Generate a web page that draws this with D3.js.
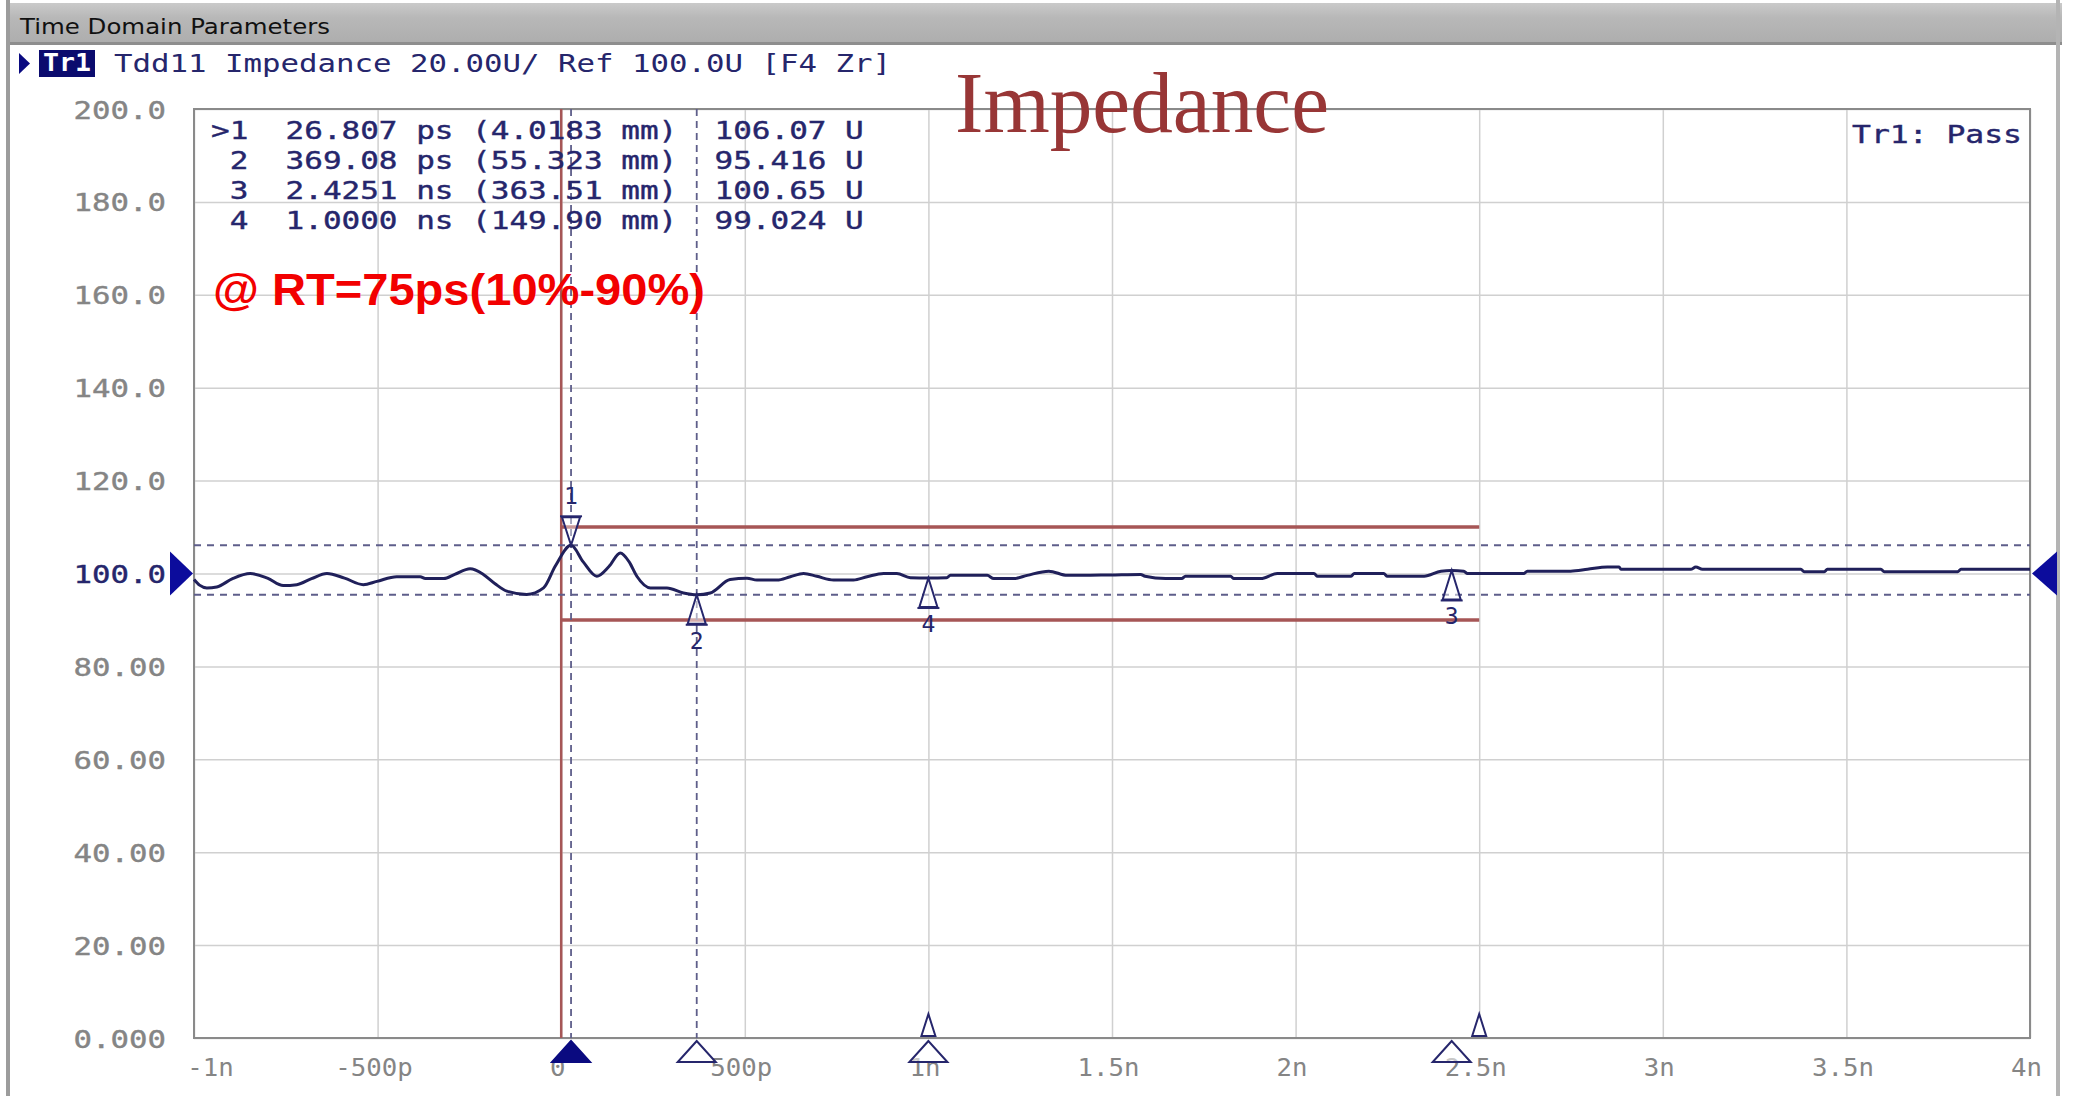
<!DOCTYPE html>
<html>
<head>
<meta charset="utf-8">
<script src="https://cdn.jsdelivr.net/npm/d3@7"></script>
<style>
  html, body { margin: 0; padding: 0; background: #ffffff; overflow: hidden; }
  text.pre { white-space: pre; }
</style>
</head>
<body>
<svg id="chart" width="2074" height="1096"></svg>
<script>
// Tdd11 differential impedance trace (time in ns, impedance in ohms)
const traceTime = [
  -1.000, -0.985, -0.965, -0.938, -0.895, -0.847, -0.800, -0.757, -0.720, -0.680,
  -0.638, -0.590, -0.539, -0.502, -0.448, -0.384, -0.370, -0.320, -0.290, -0.248,
  -0.212, -0.180, -0.148, -0.094, -0.048, -0.016, 0.026807, 0.060, 0.097, 0.130,
  0.161, 0.185, 0.206, 0.243, 0.288, 0.333, 0.36908, 0.406, 0.460, 0.506,
  0.533, 0.588, 0.624, 0.660, 0.696, 0.742, 0.796, 0.833, 0.878, 0.914,
  0.951, 1.000, 1.050, 1.060, 1.160, 1.178, 1.232, 1.269, 1.328, 1.378,
  1.496, 1.578, 1.590, 1.646, 1.690, 1.700, 1.823, 1.832, 1.905, 1.950,
  2.050, 2.060, 2.150, 2.160, 2.240, 2.250, 2.350, 2.396, 2.4251, 2.458,
  2.468, 2.622, 2.631, 2.749, 2.795, 2.849, 2.881, 2.886, 3.076, 3.090,
  3.108, 3.376, 3.385, 3.440, 3.448, 3.594, 3.603, 3.803, 3.812, 4.000
];
const traceImpedance = [
  98.7, 97.5, 96.9, 97.1, 98.9, 100.0, 99.0, 97.4, 97.6, 98.9,
  100.0, 99.0, 97.6, 98.3, 99.3, 99.3, 98.9, 98.9, 99.8, 101.0,
  99.8, 97.8, 96.2, 95.5, 96.9, 101.6, 106.07, 102.5, 99.4, 101.5,
  104.4, 102.5, 99.4, 96.9, 96.9, 95.8, 95.416, 95.8, 98.7, 99.0,
  98.6, 98.6, 99.3, 100.0, 99.4, 98.6, 98.6, 99.3, 100.0, 100.0,
  99.1, 99.024, 99.1, 99.6, 99.6, 98.9, 98.9, 99.6, 100.5, 99.6,
  99.7, 99.8, 99.4, 98.9, 98.9, 99.4, 99.4, 98.9, 98.9, 100.0,
  100.0, 99.4, 99.4, 100.0, 100.0, 99.4, 99.4, 100.5, 100.65, 100.5,
  100.0, 100.0, 100.5, 100.5, 100.9, 101.4, 101.4, 100.9, 100.9, 101.4,
  100.9, 100.9, 100.4, 100.4, 100.9, 100.9, 100.4, 100.4, 100.9, 100.9
];

// Markers (table order)
const markerIds = [1, 2, 3, 4];
const markerTimes = [0.026807, 0.36908, 2.4251, 1.0000];      // ns
const markerDistances = [4.0183, 55.323, 363.51, 149.90];     // mm
const markerValues = [106.07, 95.416, 100.65, 99.024];        // ohm
const activeMarker = 1;
const crossLineMarkers = [1, 2];   // markers showing dashed cross lines

// Limit lines
const limitTimes = [0, 2.5];
const limitLevels = [110, 90];
// Small flags sitting on the time axis
const axisFlags = [1.0, 2.5];

// Axes
const xTickValues = [-1, -0.5, 0, 0.5, 1, 1.5, 2, 2.5, 3, 3.5, 4];
const xTickLabels = ["-1n", "-500p", "0", "500p", "1n", "1.5n", "2n", "2.5n", "3n", "3.5n", "4n"];
const yTickValues = [0, 20, 40, 60, 80, 100, 120, 140, 160, 180, 200];
const yTickLabels = ["0.000", "20.00", "40.00", "60.00", "80.00", "100.0", "120.0", "140.0", "160.0", "180.0", "200.0"];
const refLevel = 100;

const headerText = "Tdd11 Impedance 20.00U/ Ref 100.0U [F4 Zr]";

// ---- layout & style ----
const W = 2074, H = 1096;
const plot = { left: 194, right: 2030, top: 109, bottom: 1038 };
const NAVY = "#26266c", GRAY = "#858585", ARROW = "#0c0c9c";
const MONO = "'DejaVu Sans Mono', 'Liberation Mono', monospace";

const svg = d3.select("#chart");
const x = d3.scaleLinear().domain([-1, 4]).range([plot.left, plot.right]);
const y = d3.scaleLinear().domain([0, 200]).range([plot.bottom, plot.top]);

svg.append("rect").attr("width", W).attr("height", H).attr("fill", "#ffffff");

// window frame and title bar
const defs = svg.append("defs");
const grad = defs.append("linearGradient").attr("id", "titleGrad")
  .attr("x1", 0).attr("y1", 0).attr("x2", 0).attr("y2", 1);
grad.append("stop").attr("offset", "0%").attr("stop-color", "#cacaca");
grad.append("stop").attr("offset", "35%").attr("stop-color", "#b8b8b8");
grad.append("stop").attr("offset", "100%").attr("stop-color", "#adadad");
svg.append("rect").attr("x", 8).attr("y", 3).attr("width", 2054).attr("height", 41).attr("fill", "url(#titleGrad)");
svg.append("rect").attr("x", 8).attr("y", 42).attr("width", 2054).attr("height", 3).attr("fill", "#8e8e8e");
svg.append("rect").attr("x", 6).attr("y", 0).attr("width", 4).attr("height", H).attr("fill", "#9c9c9c");
svg.append("rect").attr("x", 2056).attr("y", 0).attr("width", 4).attr("height", H).attr("fill", "#b4b4b4");

svg.append("text").attr("x", 20).attr("y", 34)
  .attr("font-family", "'DejaVu Sans', Tahoma, sans-serif").attr("font-size", 22)
  .attr("textLength", 310).attr("lengthAdjust", "spacingAndGlyphs")
  .attr("fill", "#111").text("Time Domain Parameters");

// trace header
svg.append("path").attr("d", "M19,53 L30,63.5 L19,74 Z").attr("fill", "#0a0a80");
svg.append("rect").attr("x", 39).attr("y", 50).attr("width", 56).attr("height", 27).attr("fill", "#0b0b6e");
svg.append("text").attr("x", 43).attr("y", 71).attr("font-family", MONO).attr("font-size", 24)
  .attr("font-weight", "bold").attr("textLength", 48).attr("lengthAdjust", "spacingAndGlyphs")
  .attr("fill", "#ffffff").text("Tr1");
svg.append("text").attr("class", "pre mono").attr("xml:space", "preserve")
  .attr("x", 114).attr("y", 72).attr("font-family", MONO).attr("font-size", 25)
  .attr("textLength", headerText.length * 18.5).attr("lengthAdjust", "spacingAndGlyphs")
  .attr("fill", NAVY).text(headerText);

// gridlines and labels via axes
const gx = svg.append("g").attr("transform", `translate(0,${plot.bottom})`)
  .call(d3.axisBottom(x).tickValues(xTickValues).tickSize(-(plot.bottom - plot.top))
    .tickFormat((d, i) => xTickLabels[i]));
gx.select(".domain").remove();
gx.selectAll(".tick line").attr("stroke", "#d0d0d0").attr("stroke-width", 1.5);
gx.selectAll(".tick text").attr("y", 38).attr("dy", null)
  .attr("dx", (d, i) => i === 0 ? 16 : -4)
  .attr("font-family", MONO).attr("font-size", 24).attr("fill", GRAY)
  .attr("textLength", (d, i) => xTickLabels[i].length * 15.5).attr("lengthAdjust", "spacingAndGlyphs");

const gy = svg.append("g").attr("transform", `translate(${plot.left},0)`)
  .call(d3.axisLeft(y).tickValues(yTickValues).tickSize(-(plot.right - plot.left))
    .tickFormat((d, i) => yTickLabels[i]));
gy.select(".domain").remove();
gy.selectAll(".tick line").attr("stroke", "#d0d0d0").attr("stroke-width", 1.5);
gy.selectAll(".tick text").attr("x", -28).attr("dy", "0.36em")
  .attr("font-family", MONO).attr("font-size", 25)
  .attr("fill", d => d === refLevel ? NAVY : GRAY)
  .attr("stroke", d => d === refLevel ? NAVY : GRAY).attr("stroke-width", 0.4)
  .attr("textLength", (d, i) => yTickLabels[i].length * 18.5).attr("lengthAdjust", "spacingAndGlyphs");

// plot frame
svg.append("rect").attr("x", plot.left).attr("y", plot.top)
  .attr("width", plot.right - plot.left).attr("height", plot.bottom - plot.top)
  .attr("fill", "none").attr("stroke", "#8a8a8a").attr("stroke-width", 2);

// limit lines
const LIMIT = "#a65656";
svg.append("line").attr("x1", x(limitTimes[0])).attr("x2", x(limitTimes[0]))
  .attr("y1", y(200)).attr("y2", y(0)).attr("stroke", LIMIT).attr("stroke-width", 2.5);
limitLevels.forEach(v => {
  svg.append("line").attr("x1", x(limitTimes[0])).attr("x2", x(limitTimes[1]))
    .attr("y1", y(v)).attr("y2", y(v)).attr("stroke", LIMIT).attr("stroke-width", 3.5);
});

// dashed cross lines at markers
crossLineMarkers.forEach(id => {
  const i = markerIds.indexOf(id);
  svg.append("line").attr("x1", plot.left).attr("x2", plot.right)
    .attr("y1", y(markerValues[i])).attr("y2", y(markerValues[i]))
    .attr("stroke", "#5e5e8a").attr("stroke-width", 2).attr("stroke-dasharray", "7,6");
  svg.append("line").attr("x1", x(markerTimes[i])).attr("x2", x(markerTimes[i]))
    .attr("y1", plot.top).attr("y2", plot.bottom)
    .attr("stroke", "#5e5e8a").attr("stroke-width", 1.8).attr("stroke-dasharray", "7,5");
});

// trace
const traceData = traceTime.map((t, i) => ({ t, z: traceImpedance[i] }));
svg.append("path").datum(traceData)
  .attr("d", d3.line().x(d => x(d.t)).y(d => y(d.z)).curve(d3.curveMonotoneX))
  .attr("fill", "none").attr("stroke", "#20205a").attr("stroke-width", 3)
  .attr("stroke-linejoin", "round");

// reference level arrows
const yr = y(refLevel);
svg.append("path").attr("d", `M${plot.left - 24},${yr - 22} L${plot.left - 1},${yr} L${plot.left - 24},${yr + 22} Z`).attr("fill", ARROW);
svg.append("path").attr("d", `M${plot.right + 27},${yr - 22} L${plot.right + 2},${yr} L${plot.right + 27},${yr + 22} Z`).attr("fill", ARROW);

// marker symbols on the trace
const MFONT = 23;
markerIds.forEach((id, i) => {
  const mx = x(markerTimes[i]), my = y(markerValues[i]);
  const g = svg.append("g");
  if (id === activeMarker) {
    g.append("path").attr("d", `M${mx},${my} L${mx - 9},${my - 28} L${mx + 9},${my - 28} Z`)
      .attr("fill", "rgba(255,255,255,0.4)").attr("stroke", NAVY).attr("stroke-width", 2);
    g.append("line").attr("x1", mx - 11).attr("x2", mx + 11).attr("y1", my - 29).attr("y2", my - 29)
      .attr("stroke", NAVY).attr("stroke-width", 2);
    g.append("text").attr("x", mx).attr("y", my - 41).attr("text-anchor", "middle")
      .attr("font-family", MONO).attr("font-size", MFONT).attr("fill", NAVY).text(id);
  } else {
    g.append("path").attr("d", `M${mx},${my} L${mx - 9},${my + 29} L${mx + 9},${my + 29} Z`)
      .attr("fill", "rgba(255,255,255,0.5)").attr("stroke", NAVY).attr("stroke-width", 2);
    g.append("line").attr("x1", mx - 11).attr("x2", mx + 11).attr("y1", my + 30).attr("y2", my + 30)
      .attr("stroke", NAVY).attr("stroke-width", 2);
    g.append("text").attr("x", mx).attr("y", my + 54).attr("text-anchor", "middle")
      .attr("font-family", MONO).attr("font-size", MFONT).attr("fill", NAVY).text(id);
  }
});

// marker position indicators on the time axis
markerIds.forEach((id, i) => {
  const mx = x(markerTimes[i]), b = plot.bottom;
  svg.append("path").attr("d", `M${mx},${b + 3} L${mx - 19},${b + 24} L${mx + 19},${b + 24} Z`)
    .attr("fill", id === activeMarker ? "#0a0a80" : "rgba(255,255,255,0.55)")
    .attr("stroke", id === activeMarker ? "#0a0a80" : NAVY).attr("stroke-width", 2);
});
axisFlags.forEach(t => {
  const fx = x(t), b = plot.bottom;
  svg.append("path").attr("d", `M${fx},${b - 24} L${fx - 7},${b - 2} L${fx + 7},${b - 2} Z`)
    .attr("fill", "#ffffff").attr("stroke", NAVY).attr("stroke-width", 2);
});

// marker readout table
const rowText = (id, i) => {
  const t = markerTimes[i];
  const tStr = t < 1 ? (t * 1000).toPrecision(5) + " ps" : t.toPrecision(5) + " ns";
  return (id === activeMarker ? ">" : " ") + id + "  " + tStr + " (" +
    markerDistances[i].toPrecision(5) + " mm)  " + markerValues[i].toPrecision(5) + " U";
};
svg.append("g").selectAll("text").data(markerIds).join("text")
  .attr("class", "pre").attr("xml:space", "preserve")
  .attr("x", 211).attr("y", (d, i) => 139 + i * 30)
  .attr("font-family", MONO).attr("font-size", 24).attr("fill", NAVY)
  .attr("stroke", NAVY).attr("stroke-width", 0.4)
  .attr("textLength", (d, i) => rowText(d, i).length * 18.65).attr("lengthAdjust", "spacingAndGlyphs")
  .text((d, i) => rowText(d, i));

svg.append("text").attr("class", "pre").attr("xml:space", "preserve")
  .attr("x", 1852).attr("y", 143).attr("font-family", MONO).attr("font-size", 24).attr("fill", NAVY)
  .attr("stroke", NAVY).attr("stroke-width", 0.4)
  .attr("textLength", 170).attr("lengthAdjust", "spacingAndGlyphs").text("Tr1: Pass");

// annotations
svg.append("text").attr("x", 213).attr("y", 305)
  .attr("font-family", "'Liberation Sans', Arial, sans-serif").attr("font-weight", "bold")
  .attr("font-size", 45).attr("fill", "#f20000")
  .attr("textLength", 492).attr("lengthAdjust", "spacingAndGlyphs")
  .text("@ RT=75ps(10%-90%)");

svg.append("text").attr("x", 955).attr("y", 132)
  .attr("font-family", "'Liberation Serif', 'Times New Roman', serif")
  .attr("font-size", 86).attr("fill", "#983636")
  .attr("textLength", 374).attr("lengthAdjust", "spacingAndGlyphs")
  .text("Impedance");
</script>
</body>
</html>
